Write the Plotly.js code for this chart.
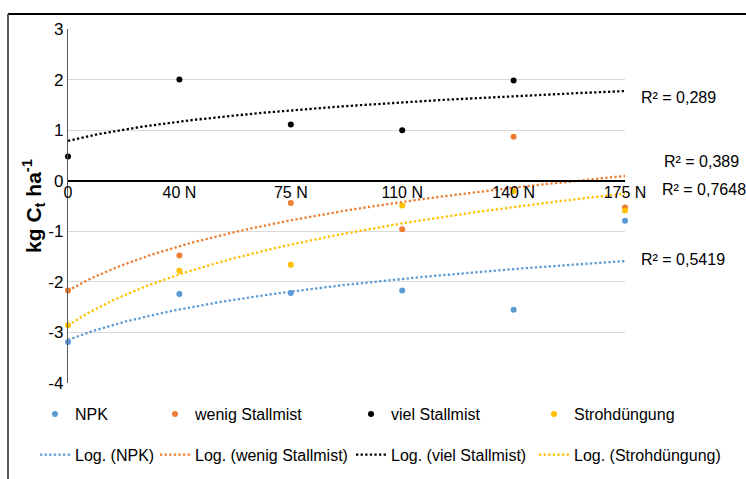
<!DOCTYPE html>
<html>
<head>
<meta charset="utf-8">
<script src="https://cdn.plot.ly/plotly-3.0.1.min.js"></script>
<style>html,body{margin:0;padding:0;background:#fff;}#chart{width:746px;height:479px;}</style>
</head>
<body>
<div id="chart"></div>
<script>
// ---- data ----
const categories = ['0', '40 N', '75 N', '110 N', '140 N', '175 N'];
const npk   = [-3.19, -2.24, -2.22, -2.17, -2.55, -0.79];
const wenig = [-2.17, -1.48, -0.44, -0.96, 0.87, -0.53];
const viel  = [0.48, 2.00, 1.11, 1.00, 1.98, null];
const stroh = [-2.86, -1.78, -1.66, -0.49, -0.21, -0.59];
const yTickVals = [-4, -3, -2, -1, 0, 1, 2, 3];
const yTickText = ['-4', '-3', '-2', '-1', '0', '1', '2', '3'];
const seriesNames = ['NPK', 'wenig Stallmist', 'viel Stallmist', 'Strohdüngung'];
const trendNames = ['Log. (NPK)', 'Log. (wenig Stallmist)', 'Log. (viel Stallmist)', 'Log. (Strohdüngung)'];
const r2Texts = ['R² = 0,5419', 'R² = 0,389', 'R² = 0,289', 'R² = 0,7648'];

// ---- styling ----
const colors = ['#5b9bd5', '#ed7d31', '#000000', '#ffc000'];
const FONT = '"Liberation Sans", Arial, sans-serif';
const W = 746, H = 479, M = {l: 68, r: 121, t: 29, b: 96, autoexpand: false};
const PW = W - M.l - M.r, PH = H - M.t - M.b;
const px2x = p => (p - M.l) / PW;
const px2y = p => (H - M.b - p) / PH;

const xPos = categories.map((c, i) => i + 1);

// least-squares logarithmic trendline y = a ln(x) + b (as Excel does)
function logFit(ys) {
  const pts = [];
  ys.forEach((y, i) => { if (y !== null) pts.push([Math.log(xPos[i]), y]); });
  const n = pts.length;
  const mx = pts.reduce((s, p) => s + p[0], 0) / n;
  const my = pts.reduce((s, p) => s + p[1], 0) / n;
  let sxy = 0, sxx = 0;
  pts.forEach(p => { sxy += (p[0] - mx) * (p[1] - my); sxx += (p[0] - mx) ** 2; });
  const a = sxy / sxx;
  return {a: a, b: my - a * mx};
}

const allSeries = [npk, wenig, viel, stroh];
const legendIds = ['legend', 'legend2', 'legend3', 'legend4'];
const trendTraces = [], pointTraces = [];
allSeries.forEach((ys, k) => {
  const f = logFit(ys);
  const tx = [], ty = [];
  for (let i = 0; i <= 100; i++) {
    const x = 1 + 5 * i / 100;
    tx.push(x); ty.push(f.a * Math.log(x) + f.b);
  }
  trendTraces.push({
    type: 'scatter', mode: 'lines', name: trendNames[k],
    x: tx, y: ty, cliponaxis: false,
    line: {color: colors[k], width: 2.3, dash: '2.3px,2.3px'},
    legend: legendIds[k], legendgroup: 't' + k, legendrank: 2,
    hoverinfo: 'skip'
  });
  pointTraces.push({
    type: 'scatter', mode: 'markers', name: seriesNames[k],
    x: xPos, y: ys, cliponaxis: false,
    marker: {color: colors[k], size: 6},
    legend: legendIds[k], legendgroup: 'p' + k, legendrank: 1,
    hoverinfo: 'x+y'
  });
});
const ordered = trendTraces.concat(pointTraces);

const legendX = [35, 155, 351, 534];
const legendBase = {
  orientation: 'v', yanchor: 'top', y: px2y(397), xanchor: 'left',
  font: {family: FONT, size: 16, color: '#000'},
  bgcolor: 'rgba(0,0,0,0)', tracegroupgap: 17, itemwidth: 30,
  traceorder: 'grouped'
};
const layout = {
  width: W, height: H, margin: M,
  paper_bgcolor: '#fff', plot_bgcolor: '#fff',
  font: {family: FONT, size: 16, color: '#000'},
  showlegend: true,
  xaxis: {
    type: 'linear', range: [1, 6], tickvals: xPos, ticktext: categories,
    anchor: 'free', position: 4 / 7, automargin: false, ticklabelstandoff: -3,
    showline: true, linecolor: '#000', linewidth: 1.5,
    showgrid: false, zeroline: false, ticks: '',
    tickfont: {family: FONT, size: 16, color: '#000'}
  },
  yaxis: {
    range: [-4, 3], tickvals: yTickVals, ticktext: yTickText, automargin: false,
    showgrid: true, gridcolor: '#d9d9d9', gridwidth: 1.3,
    zeroline: false, showline: true, linecolor: '#595959', linewidth: 1.3,
    ticks: '', tickfont: {family: FONT, size: 17, color: '#000'},
    title: {text: '<b>kg C<sub>t</sub> ha<sup>-1</sup></b>', font: {family: FONT, size: 21, color: '#000'}, standoff: 0}
  },
  annotations: [
    {text: r2Texts[2], x: px2x(639), y: px2y(97)},
    {text: r2Texts[1], x: px2x(662), y: px2y(161)},
    {text: r2Texts[3], x: px2x(660), y: px2y(189)},
    {text: r2Texts[0], x: px2x(639), y: px2y(259)}
  ].map(a => Object.assign({xref: 'paper', yref: 'paper', xanchor: 'left', yanchor: 'middle', showarrow: false,
                            font: {family: FONT, size: 16, color: '#000'}}, a)),
  shapes: [
    {type: 'line', xref: 'paper', yref: 'paper', x0: px2x(8), x1: px2x(760), y0: px2y(14), y1: px2y(14), line: {color: '#000', width: 2}},
    {type: 'line', xref: 'paper', yref: 'paper', x0: px2x(8), x1: px2x(8), y0: px2y(14), y1: px2y(490), line: {color: '#595959', width: 2}}
  ]
};
legendIds.forEach((id, k) => {
  layout[id] = Object.assign({}, legendBase, {x: px2x(legendX[k])});
});

Plotly.newPlot('chart', ordered, layout, {displayModeBar: false, responsive: false});
</script>
</body>
</html>
